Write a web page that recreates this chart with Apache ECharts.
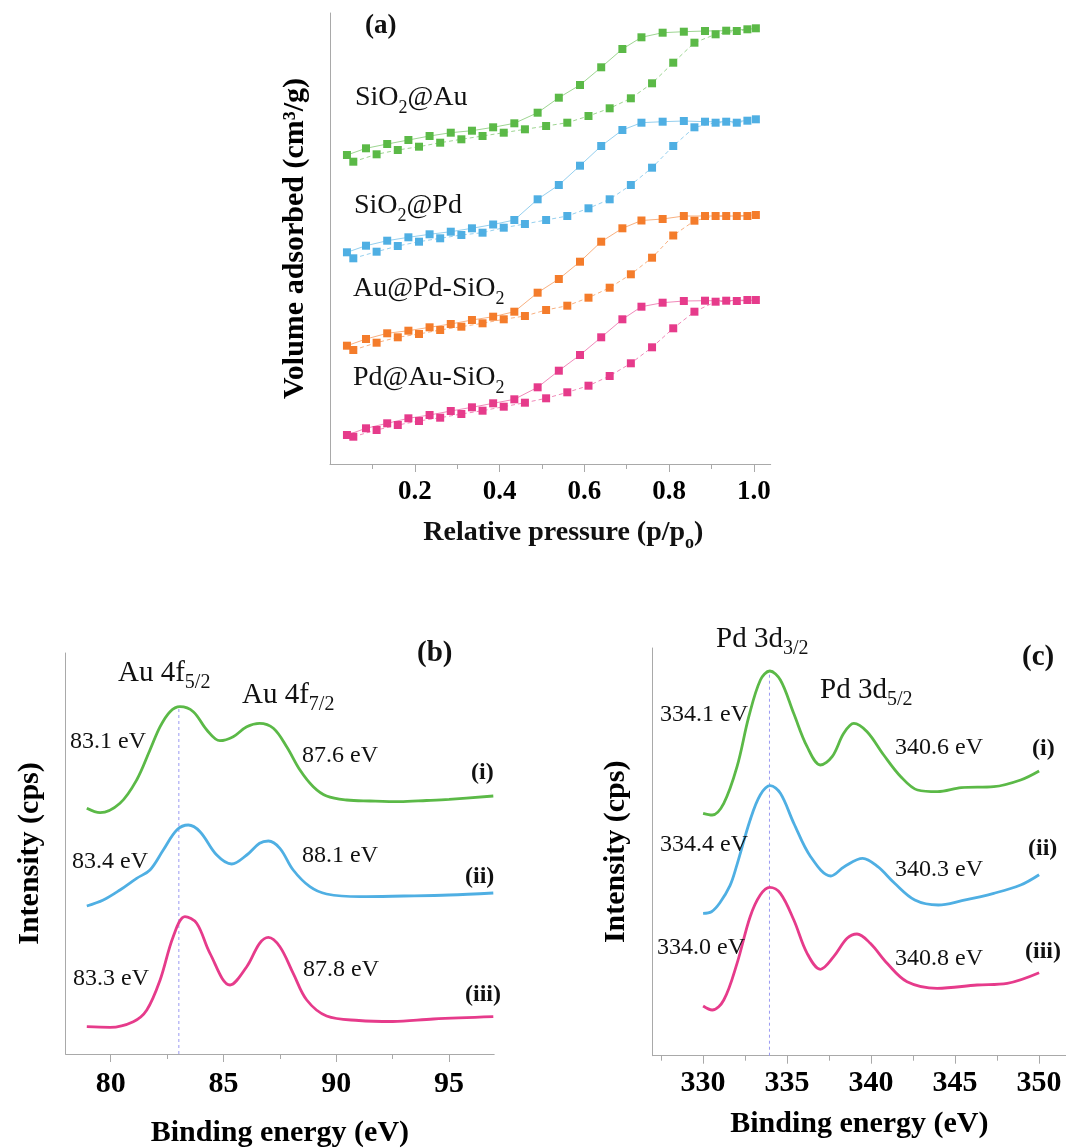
<!DOCTYPE html>
<html><head><meta charset="utf-8">
<script src="https://cdn.jsdelivr.net/npm/echarts@6/dist/echarts.min.js"></script>
<style>html,body{margin:0;padding:0;background:#fff}#c{width:1066px;height:1148px}</style>
</head><body><div id="c"></div>
<script>
// ---------- Panel (a): N2 isotherms (arbitrary offset units) ----------
const pressDes = [0.04,0.085,0.135,0.185,0.235,0.285,0.335,0.385,0.435,0.49,0.54,0.59,0.64,0.69,0.735,0.785,0.835,0.885,0.935,0.985];
const pressAds = [0.055,0.11,0.16,0.21,0.26,0.31,0.36,0.41,0.46,0.51,0.56,0.61,0.66,0.71,0.76,0.81,0.86,0.91,0.96,1.005];
const auDes   = [309,315.7,320,324,328,331.3,333.3,336.7,340.7,351.3,366.3,379,396.7,415,426.7,431.3,432.3,433,433.3,434.7];
const auAds   = [302.3,309.7,314,317.3,321.3,324.7,328,331.3,334.7,338,341.3,348,355.7,365.7,380.7,401.3,421.3,429.7,433,435.7];
const pdDes   = [211.7,218.3,223.3,226.7,229.7,232.3,235.7,239.5,244,264.7,279,298.3,318,334,341.3,342.3,343,342.3,342.3,343.3];
const pdAds   = [205.7,212.3,218,222.3,225.7,229,231.3,236.3,240,244,248,255.7,264.7,279,296.3,318,336.7,341.3,341.3,344.7];
const aupdDes = [118.3,125,130.7,133.3,136.7,140,144,147.3,152.3,171.3,185,202.3,222.3,235.7,243.5,245,248,248,248,248];
const aupdAds = [114,121.3,126.7,130,134,137.3,140.7,144.7,148,154,158.3,166.3,176.3,189.7,206.3,228.5,243.3,248,248,249];
const pdauDes = [29,35.7,40.7,45.7,49,53,56.7,60.7,64.7,76.7,93.3,109,126.7,144.7,157.3,161.3,163,163.3,163.3,164];
const pdauAds = [27.3,34,39,43,46.3,50,53.3,57.3,61.3,65.7,71.7,78.3,88,100.7,116.7,135.7,152.3,162.3,163,164];
const aTicks = [0.2,0.4,0.6,0.8,1.0];
const aMinorTicks = [0.1,0.3,0.5,0.7,0.9];

// ---------- Panel (b): Au 4f XPS ----------
const bEnergyI   = [78.94,79.53,80.41,81.15,81.74,82.19,82.63,83.07,83.66,84.26,84.84,85.43,86.03,86.6,87.21,87.8,88.39,88.98,89.57,90.46,91.5,92.8,94.0,95.0,96.96];
const bIntI      = [245.7,241.3,250.7,274,304,327.3,342.3,347.3,342.3,324,313.3,317.3,327.3,330.7,325.7,307.3,284,267.3,258,254,253,252.3,253.5,254.7,258];
const bEnergyII  = [78.94,79.67,80.41,81.15,81.74,82.33,82.93,83.44,83.96,84.7,85.36,86.03,86.6,86.99,87.5,88.09,88.83,89.57,91.05,93.0,95.0,96.96];
const bIntII     = [148,154,164,175.7,184,204,224,229,222.3,199,190,199,210.7,213,205.7,184,167.3,160,157.3,158,159,161];
const bEnergyIII = [78.94,79.97,81.0,81.6,82.19,82.77,83.29,83.81,84.4,85.29,86.03,86.6,86.99,87.5,88.09,88.69,89.57,91.0,92.5,94.3,96.96];
const bIntIII    = [27.3,26.7,32.3,44,74,117.3,137.3,130.7,100.7,69,87.3,110.7,116.7,107.3,80.7,54,38,33.5,32.5,35,37.3];
const bTicks = [80,85,90,95];
const bMinorTicks = [82.5,87.5,92.5];
const bRefLineX = [83.02, 83.02];
const bRefLineY = [0, 347];

// ---------- Panel (c): Pd 3d XPS ----------
const cEnergyI   = [330.0,330.54,331.23,332.02,332.72,333.41,333.97,334.6,335.39,336.19,336.98,337.68,338.37,338.97,339.76,340.75,341.77,342.76,343.95,345.36,347.3,348.9,350.0];
const cIntI      = [242.4,240.7,252.4,289,339,375.7,384.7,375.7,342.4,309,290.7,299,322.4,332.4,324,300.7,279,265.7,264,268,269,275.7,284.7];
const cEnergyII  = [330.0,330.5,331.0,331.6,332.0,332.8,333.4,334.0,334.6,335.4,336.4,337.6,338.4,339.5,340.4,341.4,342.6,344.0,345.4,347.3,348.9,350.0];
const cIntII     = [142.4,144,153,170,190,235.7,260.7,270,262.4,232.4,199,179.7,189,197.4,189,172.4,155.7,150.7,155,162.4,170.7,181];
const cEnergyIII = [330.0,330.54,331.23,332.02,332.8,333.4,333.97,334.6,335.4,336.19,336.98,337.77,338.57,339.16,339.95,340.95,342.14,343.93,346.31,348.1,350.0];
const cIntIII    = [49.7,45.7,55.7,92.4,139,160.7,168.4,162.4,135.7,102.4,86.4,99,117.4,121.7,112.4,92.4,74,67.4,70.7,72.4,83];
const cTicks = [330,335,340,345,350];
const cMinorTicks = [327.5,332.5,337.5,342.5,347.5];
const cRefLineX = [333.95, 333.95];
const cRefLineY = [0, 384.7];

// ---------- styling ----------
const SERIF = "'Liberation Serif','Times New Roman',serif";
const GREY = '#a9a9a9';
const C_GREEN = '#5BB947', C_BLUE = '#4FAFE3', C_ORANGE = '#F47C2B', C_PINK = '#E63B8B';
const C_REF = '#9a9af2';

const zip = (xs, ys) => xs.map((x, i) => [x, ys[i]]);

function rich(size, sub, pad, bold) {
  const w = bold ? 'bold' : 'normal';
  return {
    n: {fontSize: size, fontFamily: SERIF, fontWeight: w, color: '#111', fill: '#111'},
    s: {fontSize: sub, fontFamily: SERIF, fontWeight: w, color: '#111', fill: '#111', padding: [pad, 0, 0, 0]}
  };
}
function txt(x, y, text, size, opts) {
  opts = opts || {};
  return {type: 'text', x: x, y: y, rotation: opts.rotation || 0, silent: true, z: 100,
    style: {text: text, fontSize: size, fontFamily: SERIF, fontWeight: opts.bold ? 'bold' : 'normal',
      fill: '#111', align: opts.align || 'left', verticalAlign: 'middle', rich: opts.rich}};
}

function xAxisMain(grid, min, max, ticks, fmt, labelSize, margin, name, nameGap, nameStyle) {
  return {gridIndex: grid, type: 'value', position: 'bottom', min: min, max: max,
    axisLine: {show: true, lineStyle: {color: GREY, width: 1}},
    axisTick: {show: true, length: 8, customValues: ticks, lineStyle: {color: GREY, width: 1}},
    axisLabel: {show: true, customValues: ticks, formatter: fmt, fontFamily: SERIF, fontWeight: 'bold',
      fontSize: labelSize, color: '#000', margin: margin},
    splitLine: {show: false}, minorTick: {show: false},
    name: name, nameLocation: 'middle', nameGap: nameGap, nameTextStyle: nameStyle};
}
function xAxisMinor(grid, min, max, ticks) {
  return {gridIndex: grid, type: 'value', position: 'bottom', min: min, max: max,
    axisLine: {show: false},
    axisTick: {show: true, length: 5, customValues: ticks, lineStyle: {color: GREY, width: 1}},
    axisLabel: {show: false}, splitLine: {show: false}};
}
function yAxisCfg(grid, max, name, nameGap, size) {
  return {gridIndex: grid, type: 'value', min: 0, max: max,
    axisLine: {show: true, lineStyle: {color: GREY, width: 1}},
    axisTick: {show: false}, axisLabel: {show: false}, splitLine: {show: false},
    name: name, nameLocation: 'middle', nameGap: nameGap, nameRotate: 90,
    nameTextStyle: {fontFamily: SERIF, fontWeight: 'bold', fontSize: size, color: '#000'}};
}

function isoSeries(name, xs, ys, color, dashed) {
  return {name: name, type: 'line', xAxisIndex: 0, yAxisIndex: 0, data: zip(xs, ys),
    symbol: 'rect', symbolSize: 8, showSymbol: true, smooth: false, clip: false,
    itemStyle: {color: color}, lineStyle: {color: color, width: 1, opacity: 0.6, type: dashed ? [4, 3] : 'solid'},
    emphasis: {disabled: true}, z: 3};
}
function xpsSeries(name, xAxisIdx, yAxisIdx, xs, ys, color) {
  return {name: name, type: 'line', xAxisIndex: xAxisIdx, yAxisIndex: yAxisIdx,
    data: zip(xs, ys), symbol: 'none', smooth: 0.35, clip: false,
    lineStyle: {color: color, width: 2.8}, itemStyle: {color: color}, emphasis: {disabled: true}, z: 3};
}
function refSeries(name, xAxisIdx, yAxisIdx, xs, ys) {
  return {name: name, type: 'line', xAxisIndex: xAxisIdx, yAxisIndex: yAxisIdx,
    data: zip(xs, ys), symbol: 'none', smooth: false, silent: true,
    lineStyle: {color: C_REF, width: 1, type: [3, 3]}, itemStyle: {color: C_REF},
    emphasis: {disabled: true}, z: 1};
}

const chart = echarts.init(document.getElementById('c'), null, {renderer: 'canvas'});

const aNameRich = rich(28, 18, 20, true);
const graphics = [
  txt(365, 26, '(a)', 27, {bold: true}),
  txt(355, 98, '{n|SiO}{s|2}{n|@Au}', 28, {rich: rich(28, 18, 20)}),
  txt(354, 206, '{n|SiO}{s|2}{n|@Pd}', 28, {rich: rich(28, 18, 20)}),
  txt(353, 289, '{n|Au@Pd-SiO}{s|2}', 28, {rich: rich(28, 18, 20)}),
  txt(353, 378, '{n|Pd@Au-SiO}{s|2}', 28, {rich: rich(28, 18, 20)}),

  txt(417, 654, '(b)', 29, {bold: true}),
  txt(118, 673, '{n|Au 4f}{s|5/2}', 29, {rich: rich(29, 20, 20)}),
  txt(242, 695, '{n|Au 4f}{s|7/2}', 29, {rich: rich(29, 20, 20)}),
  txt(70, 742, '83.1 eV', 24),
  txt(302, 756, '87.6 eV', 24),
  txt(471, 773, '(i)', 24, {bold: true}),
  txt(72, 862, '83.4 eV', 24),
  txt(302, 856, '88.1 eV', 24),
  txt(465, 877, '(ii)', 24, {bold: true}),
  txt(73, 979, '83.3 eV', 24),
  txt(303, 970, '87.8 eV', 24),
  txt(465, 995, '(iii)', 24, {bold: true}),

  txt(1022, 658, '(c)', 29, {bold: true}),
  txt(716, 639, '{n|Pd 3d}{s|3/2}', 29, {rich: rich(29, 20, 20)}),
  txt(820, 690, '{n|Pd 3d}{s|5/2}', 29, {rich: rich(29, 20, 20)}),
  txt(660, 715, '334.1 eV', 24),
  txt(895, 748, '340.6 eV', 24),
  txt(1032, 749, '(i)', 24, {bold: true}),
  txt(660, 845, '334.4 eV', 24),
  txt(895, 870, '340.3 eV', 24),
  txt(1028, 849, '(ii)', 24, {bold: true}),
  txt(657, 948, '334.0 eV', 24),
  txt(895, 959, '340.8 eV', 24),
  txt(1025, 952, '(iii)', 24, {bold: true})
];

const option = {
  backgroundColor: '#ffffff',
  animation: false,
  grid: [
    {left: 330, top: 13, width: 440.7, height: 451, outerBoundsMode: 'none', containLabel: false},
    {left: 65.6, top: 653, width: 428.6, height: 401, outerBoundsMode: 'none', containLabel: false},
    {left: 652.7, top: 648, width: 413.3, height: 407.7, outerBoundsMode: 'none', containLabel: false}
  ],
  xAxis: [
    xAxisMain(0, 0, 1.04, aTicks, v => Number(v).toFixed(1), 27, 15,
      '{n|Relative pressure (p/p}{s|o}{n|)}', 50,
      {rich: aNameRich, padding: [0, 0, 0, 26], fontFamily: SERIF, fontWeight: 'bold', fontSize: 28, color: '#000'}),
    xAxisMinor(0, 0, 1.04, aMinorTicks),
    xAxisMain(1, 78, 97, bTicks, v => String(v), 30, 15, 'Binding energy (eV)', 64,
      {fontFamily: SERIF, fontWeight: 'bold', fontSize: 30, color: '#000'}),
    xAxisMinor(1, 78, 97, bMinorTicks),
    xAxisMain(2, 327, 351.6, cTicks, v => String(v), 30, 13, 'Binding energy (eV)', 54,
      {fontFamily: SERIF, fontWeight: 'bold', fontSize: 30, color: '#000'}),
    xAxisMinor(2, 327, 351.6, cMinorTicks)
  ],
  yAxis: [
    yAxisCfg(0, 451, 'Volume adsorbed (cm\u00b3/g)', 20, 30),
    yAxisCfg(1, 401, 'Intensity (cps)', 20, 30),
    yAxisCfg(2, 407.7, 'Intensity (cps)', 21, 30)
  ],
  series: [
    isoSeries('SiO2@Au desorption', pressDes, auDes, C_GREEN, false),
    isoSeries('SiO2@Au adsorption', pressAds, auAds, C_GREEN, true),
    isoSeries('SiO2@Pd desorption', pressDes, pdDes, C_BLUE, false),
    isoSeries('SiO2@Pd adsorption', pressAds, pdAds, C_BLUE, true),
    isoSeries('Au@Pd-SiO2 desorption', pressDes, aupdDes, C_ORANGE, false),
    isoSeries('Au@Pd-SiO2 adsorption', pressAds, aupdAds, C_ORANGE, true),
    isoSeries('Pd@Au-SiO2 desorption', pressDes, pdauDes, C_PINK, false),
    isoSeries('Pd@Au-SiO2 adsorption', pressAds, pdauAds, C_PINK, true),

    refSeries('Au 4f5/2 reference', 2, 1, bRefLineX, bRefLineY),
    xpsSeries('Au 4f (i)', 2, 1, bEnergyI, bIntI, C_GREEN),
    xpsSeries('Au 4f (ii)', 2, 1, bEnergyII, bIntII, C_BLUE),
    xpsSeries('Au 4f (iii)', 2, 1, bEnergyIII, bIntIII, C_PINK),

    refSeries('Pd 3d3/2 reference', 4, 2, cRefLineX, cRefLineY),
    xpsSeries('Pd 3d (i)', 4, 2, cEnergyI, cIntI, C_GREEN),
    xpsSeries('Pd 3d (ii)', 4, 2, cEnergyII, cIntII, C_BLUE),
    xpsSeries('Pd 3d (iii)', 4, 2, cEnergyIII, cIntIII, C_PINK)
  ],
  graphic: graphics
};
chart.setOption(option);
</script>
</body></html>
